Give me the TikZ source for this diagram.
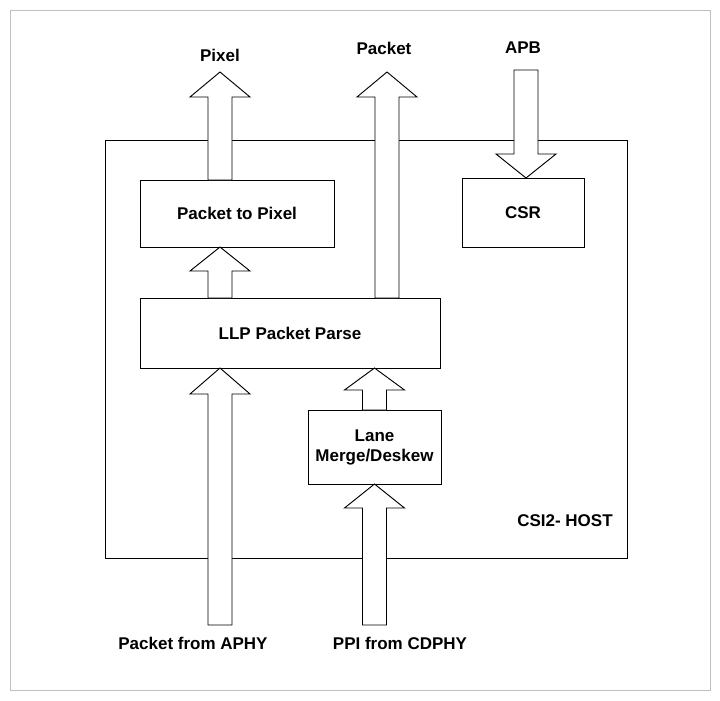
\documentclass[tikz,border=0pt]{standalone}
\usepackage{fontspec}
\setmainfont{Liberation Sans}
\usetikzlibrary{positioning}

% hollow block arrow: x, tail y, tip y, head length (sign gives direction)
\newcommand{\hollowarr}[4]{%
  \draw[fill=white] (#1-12,#2) -- (#1-12,#3+#4) -- (#1-30,#3+#4) -- (#1,#3)
    -- (#1+30,#3+#4) -- (#1+12,#3+#4) -- (#1+12,#2) -- cycle;}

\begin{document}
\begin{tikzpicture}[x=0.03cm,y=-0.03cm,line width=0.8pt,
    blk/.style={draw,fill=white,font=\fontsize{14.5}{17}\selectfont\bfseries,align=center,inner sep=0pt},
    lbl/.style={font=\fontsize{14.5}{17}\selectfont\bfseries}]
        \useasboundingbox (0,0) rectangle (720,701);
        % frame
        \draw[gray!50] (10,10) rectangle (710,690);
        % host
        \draw (105,140) rectangle (627,558);
        \node[lbl] (host) at (565,521) {CSI2- HOST};
        % blocks
        \node[blk,minimum width=5.82cm,minimum height=2.01cm] (p2p) at (237,213.5) {Packet to Pixel};
        \node[blk,minimum width=3.66cm,minimum height=2.07cm] (csr) at (523,212.5) {CSR};
        \node[blk,minimum width=9cm,minimum height=2.1cm] (llp) at (290,333) {LLP Packet Parse};
        \node[blk,minimum width=3.99cm,minimum height=2.22cm] (lane) at (374.5,447) {Lane\\Merge/Deskew};
        % arrows
        \hollowarr{220}{180}{72}{25}
        \hollowarr{387}{298}{72}{25}
        \hollowarr{526}{70}{178}{-24}
        \hollowarr{220}{298}{247}{24}
        \hollowarr{220}{625}{368}{26}
        \hollowarr{374.5}{410}{368}{22}
        \hollowarr{374.5}{625}{484}{24}
        % labels
        \node[lbl] (pix) at (220,55) {Pixel};
        \node[lbl] (pkt) at (384,48) {Packet};
        \node[lbl] (apb) at (523,48) {APB};
        \node[lbl] (aphy) at (193,643) {Packet from APHY};
        \node[lbl] (cdphy) at (400,643) {PPI from CDPHY};
\end{tikzpicture}
\end{document}
